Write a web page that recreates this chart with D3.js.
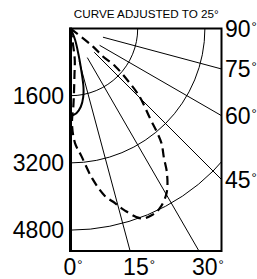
<!DOCTYPE html>
<html>
<head>
<meta charset="utf-8">
<script src="https://cdn.jsdelivr.net/npm/d3@7"></script>
<style>
  body { margin: 0; background: #fff; }
  text { font-family: "Liberation Sans", Arial, Helvetica, sans-serif; fill: #000; }
</style>
</head>
<body>
<div class="chart"></div>
<script>
let w = 257;
let h = 279;

// box and origin (lamp at top-left corner)
let boxLeft = 70.5, boxRight = 221.5, boxTop = 28.5, boxBottom = 251;

const title = "CURVE ADJUSTED TO 25\u00b0";

// radial grid (candela)
const rings = [1600, 3200, 4800];
// angle grid (degrees from nadir)
const spokes = [15, 30, 45, 60, 75];
const rightTicks = [90, 75, 60, 45];
const bottomTicks = [0, 15, 30];

// solid curve: angle (deg) / candela
const solidAngles = [0, 4, 7.5, 10.5, 12.5, 14.5, 17, 22, 30];
const solidCd = [2085, 2020, 1880, 1660, 1425, 1020, 655, 290, 0];

// dashed curve, traced around the lobe
const dashAngles = [8, 8, 4.9, 2.2, 0.9, 2.25, 4.9, 8.2, 11.6, 14.3, 16.4, 20.4, 23.9, 26.5, 30.3, 33.7, 35.9, 38.4, 39.9, 41.5, 45.4, 47.6, 49.8, 49.2, 51.3, 51];
const dashCd = [0, 710, 1110, 1820, 2270, 2730, 3050, 3600, 4070, 4290, 4500, 4826, 4845, 4775, 4535, 4140, 3790, 3490, 3200, 2860, 2310, 1870, 1400, 1010, 680, 0];

const svg = d3.select(".chart")
  .append("svg")
  .attr("width", w)
  .attr("height", h);

const rScale = d3.scaleLinear()
  .domain([0, 4800])
  .range([0, 201.6]);

const rad = (a) => a * Math.PI / 180;

svg.append("clipPath")
  .attr("id", "box")
  .append("rect")
  .attr("x", boxLeft)
  .attr("y", boxTop)
  .attr("width", boxRight - boxLeft)
  .attr("height", boxBottom - boxTop);

const g = svg.append("g")
  .attr("clip-path", "url(#box)")
  .append("g")
  .attr("transform", "translate(" + boxLeft + "," + boxTop + ")");

// rings
rings.forEach((v) => {
  let p = d3.path();
  let r = rScale(v);
  p.moveTo(0, r);
  p.arc(0, 0, r, Math.PI / 2, 0, true);
  g.append("path")
    .attr("d", p.toString())
    .attr("fill", "none")
    .attr("stroke", "#000")
    .attr("stroke-width", 1);
});

// spokes
g.selectAll(".spoke")
  .data(spokes)
  .enter()
  .append("line")
  .attr("class", "spoke")
  .attr("x1", (d) => rScale(800) * Math.sin(rad(d)))
  .attr("y1", (d) => rScale(800) * Math.cos(rad(d)))
  .attr("x2", (d) => 400 * Math.sin(rad(d)))
  .attr("y2", (d) => 400 * Math.cos(rad(d)))
  .attr("stroke", "#000")
  .attr("stroke-width", 1);

const radial = d3.lineRadial()
  .angle((d) => Math.PI - rad(d[0]))
  .radius((d) => rScale(d[1]))
  .curve(d3.curveCatmullRom.alpha(0.5));

g.append("path")
  .attr("d", radial(d3.zip(solidAngles, solidCd)))
  .attr("fill", "none")
  .attr("stroke", "#000")
  .attr("stroke-width", 2);

g.append("path")
  .attr("d", radial(d3.zip(dashAngles, dashCd)))
  .attr("fill", "none")
  .attr("stroke", "#000")
  .attr("stroke-width", 2.2)
  .attr("stroke-dasharray", "9,5");

// frame
svg.append("rect")
  .attr("x", boxLeft)
  .attr("y", boxTop)
  .attr("width", boxRight - boxLeft)
  .attr("height", boxBottom - boxTop)
  .attr("fill", "none")
  .attr("stroke", "#000")
  .attr("stroke-width", 2);

svg.append("line")
  .attr("x1", boxLeft)
  .attr("x2", boxLeft)
  .attr("y1", boxTop - 1)
  .attr("y2", boxBottom + 1)
  .attr("stroke", "#000")
  .attr("stroke-width", 3);

// labels
svg.selectAll(".ring-label")
  .data(rings)
  .enter()
  .append("text")
  .attr("class", "ring-label")
  .attr("x", boxLeft - 6.5)
  .attr("y", (d) => boxTop + rScale(d))
  .attr("dy", "0.35em")
  .attr("text-anchor", "end")
  .attr("font-size", 23)
  .text((d) => d);

let degLabel = (sel) => {
  sel.append("tspan").text((d) => d);
  sel.append("tspan")
    .attr("font-size", 13)
    .attr("dx", 1)
    .attr("dy", -6)
    .text("\u00b0");
};

svg.selectAll(".right-label")
  .data(rightTicks)
  .enter()
  .append("text")
  .attr("class", "right-label")
  .attr("x", boxRight + 3.5)
  .attr("y", (d) => (d == 90 ? boxTop : boxTop + (boxRight - boxLeft) / Math.tan(rad(d))) + 8)
  .attr("font-size", 23)
  .call(degLabel);

svg.selectAll(".bottom-label")
  .data(bottomTicks)
  .enter()
  .append("text")
  .attr("class", "bottom-label")
  .attr("x", (d) => boxLeft + (boxBottom - boxTop) * Math.tan(rad(d)) - 7)
  .attr("y", 275)
  .attr("font-size", 23)
  .call(degLabel);

svg.append("text")
  .attr("x", 146.3)
  .attr("y", 18.3)
  .attr("text-anchor", "middle")
  .attr("font-size", 11.7)
  .attr("fill", "#222")
  .text(title);
</script>
</body>
</html>
